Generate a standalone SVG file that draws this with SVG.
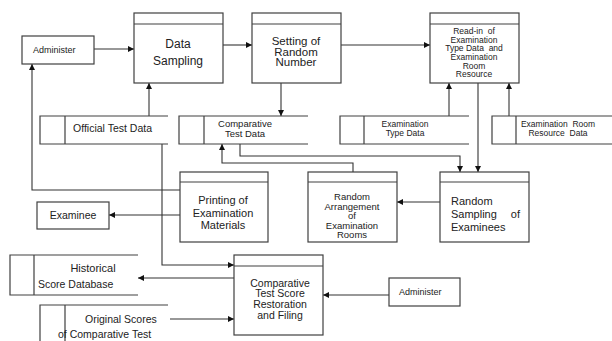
<svg xmlns="http://www.w3.org/2000/svg" width="612" height="341" viewBox="0 0 612 341">
<style>
.b{fill:#fff;stroke:#404040;stroke-width:1.2}
.s{fill:none;stroke:#404040;stroke-width:1.2}
.c{fill:none;stroke:#333;stroke-width:1.1}
text{font-family:"Liberation Sans",Arial,sans-serif;fill:#222}
.m{text-anchor:middle}
</style>
<defs>
<marker id="a" viewBox="0 0 10 10" refX="10" refY="5" markerWidth="6" markerHeight="6" orient="auto" markerUnits="userSpaceOnUse">
<path d="M0,0 L10,5 L0,10 z" fill="#111"/>
</marker>
</defs>
<rect width="612" height="341" fill="#fff"/>

<g id="connectors">
<path class="c" d="M94,49 H134" marker-end="url(#a)"/>
<path class="c" d="M223,45 H252" marker-end="url(#a)"/>
<path class="c" d="M341,45 H430" marker-end="url(#a)"/>
<path class="c" d="M149,116 V83" marker-end="url(#a)"/>
<path class="c" d="M281,83 V116" marker-end="url(#a)"/>
<path class="c" d="M449,116 V83" marker-end="url(#a)"/>
<path class="c" d="M509,116 V83" marker-end="url(#a)"/>
<path class="c" d="M478,83 V172" marker-end="url(#a)"/>
<path class="c" d="M240,144 V156 H460 V172" marker-end="url(#a)"/>
<path class="c" d="M353,172 V163 H222 V144" marker-end="url(#a)"/>
<path class="c" d="M180,190 H32 V64" marker-end="url(#a)"/>
<path class="c" d="M162,144 V265 H234" marker-end="url(#a)"/>
<path class="c" d="M180,215 H109" marker-end="url(#a)"/>
<path class="c" d="M440,202 H397" marker-end="url(#a)"/>
<path class="c" d="M234,278 H138" marker-end="url(#a)"/>
<path class="c" d="M170,319 H234" marker-end="url(#a)"/>
<path class="c" d="M389,295 H323" marker-end="url(#a)"/>
</g>

<g id="administer-top">
<rect class="b" x="22" y="36" width="72" height="28"/>
<text x="33" y="52.5" font-size="9">Administer</text>
</g>

<g id="data-sampling">
<rect class="b" x="134" y="13" width="89" height="70"/>
<path class="s" d="M134,24 H223"/>
<text class="m" x="178" y="48" font-size="12">Data</text>
<text class="m" x="178" y="65" font-size="12">Sampling</text>
</g>

<g id="setting-random">
<rect class="b" x="252" y="13" width="89" height="70"/>
<path class="s" d="M252,24 H341"/>
<text class="m" x="296" y="45" font-size="11.5">Setting of</text>
<text class="m" x="296" y="55.5" font-size="11.5">Random</text>
<text class="m" x="296" y="66" font-size="11.5">Number</text>
</g>

<g id="read-in">
<rect class="b" x="430" y="13" width="89" height="70"/>
<path class="s" d="M430,24 H519"/>
<text class="m" x="474" y="33.5" font-size="8.5" xml:space="preserve">Read-in  of</text>
<text class="m" x="474" y="42.5" font-size="8.5">Examination</text>
<text class="m" x="474" y="51" font-size="8.5" xml:space="preserve">Type Data  and</text>
<text class="m" x="474" y="60" font-size="8.5">Examination</text>
<text class="m" x="474" y="68.5" font-size="8.5">Room</text>
<text class="m" x="474" y="77" font-size="8.5">Resource</text>
</g>

<g id="official-test-data">
<path class="s" d="M168,116 H40 V144 H168 M65,116 V144"/>
<text x="73" y="132" font-size="10.5">Official Test Data</text>
</g>

<g id="comparative-test-data">
<path class="s" d="M308,116 H179 V144 H308 M204,116 V144"/>
<text class="m" x="245" y="127" font-size="9.5">Comparative</text>
<text class="m" x="245" y="137" font-size="9.5">Test Data</text>
</g>

<g id="exam-type-data">
<path class="s" d="M469,116 H340 V144 H469 M364,116 V144"/>
<text class="m" x="405" y="127" font-size="8.5">Examination</text>
<text class="m" x="405" y="136" font-size="8.5">Type Data</text>
</g>

<g id="exam-room-data">
<path class="s" d="M612,116 H492 V144 H612 M516,116 V144"/>
<text class="m" x="558" y="127" font-size="8.5" xml:space="preserve">Examination  Room</text>
<text class="m" x="558" y="136" font-size="8.5" xml:space="preserve">Resource  Data</text>
</g>

<g id="printing">
<rect class="b" x="180" y="172" width="88" height="70"/>
<path class="s" d="M180,182 H268"/>
<text class="m" x="223" y="204" font-size="11">Printing of</text>
<text class="m" x="223" y="216.5" font-size="11">Examination</text>
<text class="m" x="223" y="229" font-size="11">Materials</text>
</g>

<g id="examinee">
<rect class="b" x="37" y="202" width="72" height="27"/>
<text class="m" x="73" y="219" font-size="10.5">Examinee</text>
</g>

<g id="random-arrangement">
<rect class="b" x="308" y="172" width="89" height="70"/>
<path class="s" d="M308,182 H397"/>
<text class="m" x="352" y="200" font-size="9.5">Random</text>
<text class="m" x="352" y="209.5" font-size="9.5">Arrangement</text>
<text class="m" x="352" y="219" font-size="9.5">of</text>
<text class="m" x="352" y="228.5" font-size="9.5">Examination</text>
<text class="m" x="352" y="238" font-size="9.5">Rooms</text>
</g>

<g id="random-sampling">
<rect class="b" x="440" y="172" width="89" height="70"/>
<path class="s" d="M440,182 H529"/>
<text x="451" y="204.5" font-size="11">Random</text>
<text x="451" y="218" font-size="11">Sampling</text>
<text x="520" y="218" font-size="11" text-anchor="end">of</text>
<text x="451" y="231" font-size="11">Examinees</text>
</g>

<g id="historical">
<path class="s" d="M138,255 H10 V295 H138 M34,255 V295"/>
<text class="m" x="93" y="271.5" font-size="11">Historical</text>
<text x="38" y="288" font-size="10.5">Score Database</text>
</g>

<g id="comparative-restoration">
<rect class="b" x="234" y="255" width="89" height="80"/>
<path class="s" d="M234,266 H323"/>
<text class="m" x="280" y="286.5" font-size="10.5">Comparative</text>
<text class="m" x="280" y="297" font-size="10.5">Test Score</text>
<text class="m" x="280" y="308" font-size="10.5">Restoration</text>
<text class="m" x="280" y="318.5" font-size="10.5">and Filing</text>
</g>

<g id="original-scores">
<path class="s" d="M168,305 H40 V345 M65,305 V345"/>
<text x="85" y="323" font-size="10.5">Original Scores</text>
<text x="58" y="338" font-size="10.5">of Comparative Test</text>
</g>

<g id="administer-bottom">
<rect class="b" x="389" y="278" width="71" height="28"/>
<text x="399" y="294.5" font-size="9">Administer</text>
</g>
</svg>
